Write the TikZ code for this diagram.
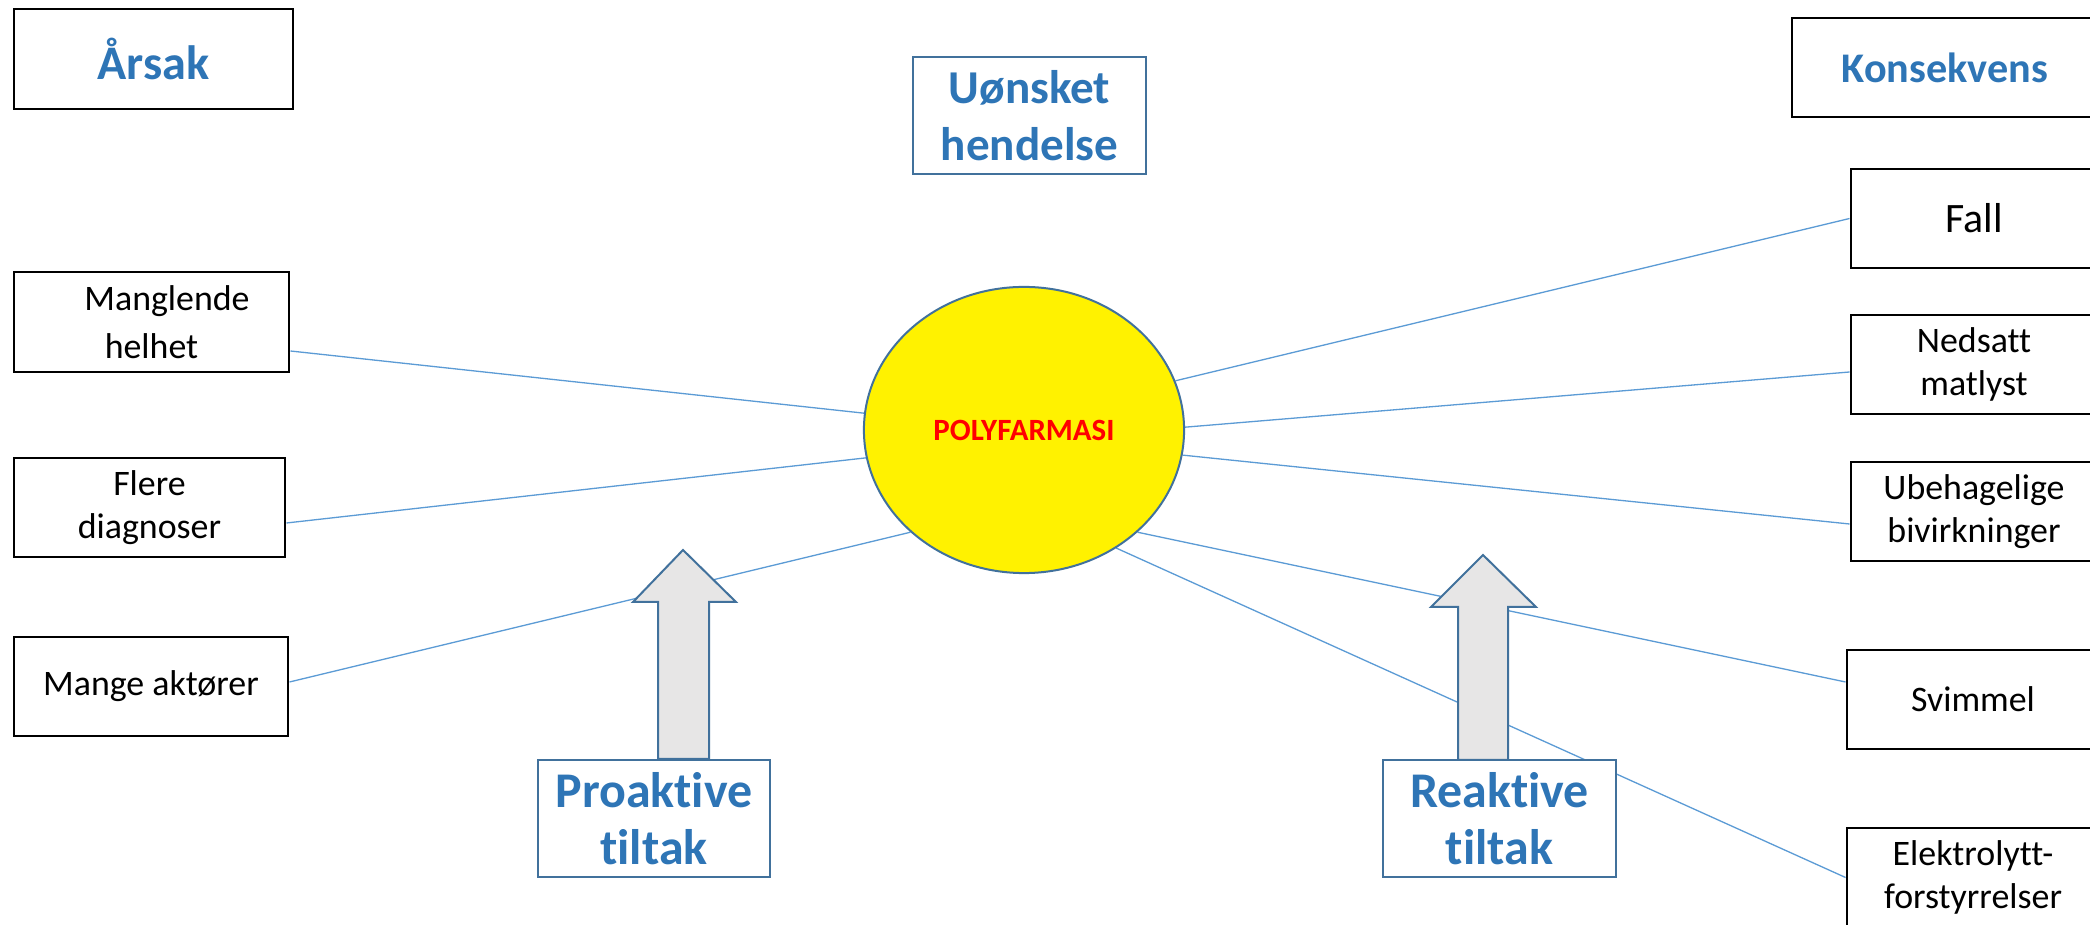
\documentclass[tikz,border=0pt]{standalone}
\usepackage{fontspec}
\setmainfont[RawFeature=-liga]{Carlito}
\usetikzlibrary{shapes.geometric,calc}
\definecolor{hblue}{RGB}{46,117,182}
\definecolor{bblue}{RGB}{65,113,156}
\definecolor{lblue}{RGB}{91,155,213}
\definecolor{agray}{RGB}{231,230,230}
\pgfdeclarelayer{paper}
\pgfdeclarelayer{bg}
\pgfsetlayers{paper,bg,main}
\begin{document}
\begin{tikzpicture}[x=0.01cm,y=-0.01cm,
  blk/.style={draw=black,line width=0.028cm,fill=white,rectangle,inner sep=0pt,align=center,minimum height=0.99cm,font=\fontsize{10.2}{12.2}\selectfont},
  hdr/.style={draw=bblue,line width=0.02cm,fill=white,rectangle,inner sep=0pt,align=center,text=hblue,minimum height=1.17cm,font=\bfseries\fontsize{13.4}{16.2}\selectfont},
  conn/.style={draw=lblue,line width=0.013cm},
  barrow/.style={draw=bblue,line width=0.02cm,fill=agray,line join=miter}]
\useasboundingbox (0,0) rectangle (2090,925);
\clip (0,0) rectangle (2090,925);
\begin{pgfonlayer}{paper}
\fill[white] (0,0) rectangle (2090,925);
\end{pgfonlayer}

% headers
\node[blk, minimum width=2.79cm, minimum height=1.0cm, text=hblue, font=\bfseries\fontsize{13.7}{16}\selectfont] (arsak) at (153.5,59) {Årsak};
\node[hdr, minimum width=2.33cm] (uonsket) at (1029.5,115.5) {Uønsket\\hendelse};
\node[blk, minimum width=3.06cm, text=hblue, font=\bfseries\fontsize{12}{14}\selectfont] (kons) at (1945,67.5) {Konsekvens};

% causes
\node[blk, minimum width=2.75cm, minimum height=1.0cm, font=\fontsize{10.2}{13.7}\selectfont] (man) at (151.5,322) {\hspace*{0.31cm}Manglende\\helhet};
\node[blk, minimum width=2.71cm] (fle) at (149.5,507.5) {Flere\\diagnoser};
\node[blk, minimum width=2.74cm] (mang) at (151,686.5) {Mange aktører};

% consequences
\node[blk, minimum width=2.46cm, font=\fontsize{11.9}{14}\selectfont] (fall) at (1974,218.5) {Fall};
\node[blk, minimum width=2.46cm] (ned) at (1974,364.5) {Nedsatt\\matlyst};
\node[blk, minimum width=2.46cm] (ube) at (1974,511.5) {Ubehagelige\\bivirkninger};
\node[blk, minimum width=2.52cm] (svi) at (1973,699.5) {Svimmel};
\node[blk, minimum width=2.52cm] (ele) at (1973,877.5) {Elektrolytt-\\forstyrrelser};

% central event
\node[ellipse, draw=bblue, line width=0.02cm, fill=yellow, minimum width=3.2cm, minimum height=2.86cm, inner sep=0pt, text=red, font=\bfseries\fontsize{8.8}{10}\selectfont] (poly) at (1024,430) {POLYFARMASI};

% connectors
\begin{pgfonlayer}{bg}
\draw[conn] (poly.174) -- ($(man.east)+(0,29)$);
\draw[conn] (poly.190) -- ($(fle.east)+(0,15.5)$);
\draw[conn] (poly.222) -- ($(mang.east)+(0,-4.5)$);
\draw[conn] (poly.18) -- (fall.west);
\draw[conn] (poly.1) -- ($(ned.west)+(0,7.5)$);
\draw[conn] (poly.351) -- ($(ube.west)+(0,12.5)$);
\draw[conn] (poly.318) -- ($(svi.west)+(0,-17.5)$);
\draw[conn] (poly.308) -- (ele.west);
\end{pgfonlayer}

% measures
\draw[barrow] (658,759) -- (658,602) -- (633,602) -- (683,550) -- (736,602) -- (709,602) -- (709,759) -- cycle;
\draw[barrow] (1458,760) -- (1458,607) -- (1431,607) -- (1483,555) -- (1536,607) -- (1508,607) -- (1508,760) -- cycle;
\node[hdr, minimum width=2.32cm, font=\bfseries\fontsize{14.2}{16.2}\selectfont] (pro) at (654,818.5) {Proaktive\\tiltak};
\node[hdr, minimum width=2.33cm, font=\bfseries\fontsize{14.2}{16.2}\selectfont] (rea) at (1499.5,818.5) {Reaktive\\tiltak};
\end{tikzpicture}
\end{document}
